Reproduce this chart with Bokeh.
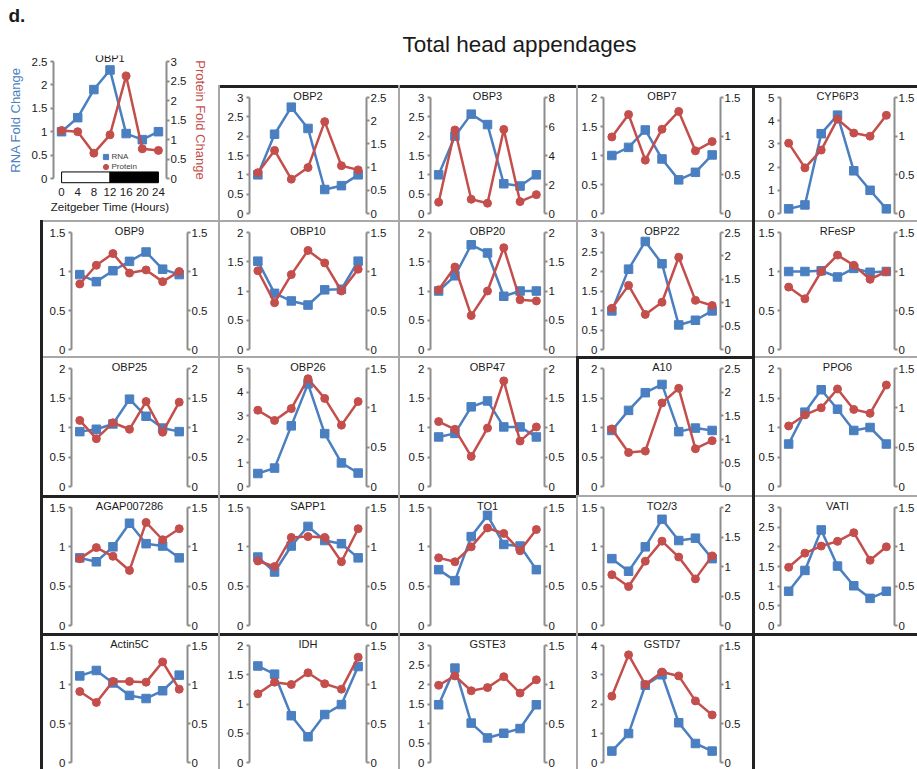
from bokeh.plotting import figure
from bokeh.models import (Range1d, LinearAxis, FixedTicker, CustomJSTickFormatter,
                          Label, Legend, LegendItem, Spacer)
from bokeh.layouts import row, column
from bokeh.embed import file_html
from bokeh.resources import INLINE

# ---------------- data ----------------
HOURS = [0, 4, 8, 12, 16, 20, 24]
LIGHT_DARK_START = [0, 12]
LIGHT_DARK_END = [12, 24]

rna_OBP1 = [1.0, 1.3, 1.9, 2.32, 0.96, 0.83, 1.0]
prot_OBP1 = [1.23, 1.2, 0.65, 1.12, 2.63, 0.76, 0.72]

rna_OBP2 = [1.0, 2.05, 2.75, 2.2, 0.62, 0.72, 1.0]
prot_OBP2 = [0.88, 1.36, 0.74, 0.99, 1.98, 1.03, 0.94]
rna_OBP3 = [1.0, 2.0, 2.57, 2.3, 0.77, 0.71, 1.0]
prot_OBP3 = [0.78, 5.76, 0.98, 0.71, 5.8, 0.82, 1.3]
rna_OBP7 = [1.0, 1.14, 1.44, 0.94, 0.58, 0.71, 1.01]
prot_OBP7 = [0.99, 1.28, 0.69, 1.09, 1.32, 0.81, 0.93]
rna_CYP6P3 = [0.2, 0.37, 3.44, 4.24, 1.84, 1.0, 0.2]
prot_CYP6P3 = [0.91, 0.59, 0.82, 1.22, 1.04, 1.0, 1.27]

rna_OBP9 = [0.96, 0.87, 1.01, 1.13, 1.25, 1.03, 0.96]
prot_OBP9 = [0.84, 1.08, 1.23, 0.98, 1.02, 0.87, 1.0]
rna_OBP10 = [1.51, 0.96, 0.83, 0.76, 1.02, 1.03, 1.51]
prot_OBP10 = [1.01, 0.6, 0.96, 1.27, 1.11, 0.75, 1.03]
rna_OBP20 = [1.0, 1.26, 1.79, 1.65, 0.91, 1.0, 1.0]
prot_OBP20 = [1.02, 1.41, 0.58, 1.0, 1.74, 0.85, 0.83]
rna_OBP22 = [0.99, 2.06, 2.77, 2.2, 0.63, 0.75, 0.99]
prot_OBP22 = [0.88, 1.37, 0.75, 1.01, 1.97, 1.05, 0.94]
rna_RFeSP = [1.0, 1.0, 1.01, 0.93, 1.04, 0.99, 1.0]
prot_RFeSP = [0.8, 0.65, 1.0, 1.21, 1.08, 0.9, 1.0]

rna_OBP25 = [0.93, 0.97, 1.06, 1.48, 1.19, 0.99, 0.93]
prot_OBP25 = [1.12, 0.81, 1.08, 0.97, 1.44, 0.92, 1.43]
rna_OBP26 = [0.55, 0.78, 2.57, 4.35, 2.24, 1.0, 0.57]
prot_OBP26 = [0.97, 0.84, 0.99, 1.37, 1.12, 0.78, 1.08]
rna_OBP47 = [0.84, 0.9, 1.35, 1.45, 1.01, 1.01, 0.84]
prot_OBP47 = [1.1, 0.97, 0.51, 0.99, 1.79, 0.77, 1.01]
rna_A10 = [0.95, 1.29, 1.59, 1.73, 0.93, 0.99, 0.95]
prot_A10 = [1.22, 0.72, 0.75, 1.77, 2.08, 0.8, 0.97]
rna_PPO6 = [0.72, 1.26, 1.64, 1.31, 0.95, 1.0, 0.72]
prot_PPO6 = [0.77, 0.91, 1.0, 1.24, 0.98, 0.93, 1.29]

rna_AGAP007286 = [0.86, 0.81, 1.0, 1.3, 1.04, 1.01, 0.86]
prot_AGAP007286 = [0.85, 0.99, 0.88, 0.7, 1.31, 1.09, 1.23]
rna_SAPP1 = [0.87, 0.68, 1.01, 1.26, 1.08, 1.04, 0.86]
prot_SAPP1 = [0.82, 0.75, 1.12, 1.13, 1.12, 0.81, 1.23]
rna_TO1 = [0.71, 0.57, 1.13, 1.4, 1.03, 1.01, 0.71]
prot_TO1 = [0.86, 0.81, 1.0, 1.24, 1.17, 0.95, 1.22]
rna_TO2_3 = [0.85, 0.69, 1.0, 1.35, 1.08, 1.11, 0.85]
prot_TO2_3 = [0.86, 0.66, 1.09, 1.43, 1.16, 0.79, 1.18]
rna_VATI = [0.87, 1.4, 2.43, 1.51, 1.01, 0.69, 0.87]
prot_VATI = [0.74, 0.92, 1.01, 1.07, 1.18, 0.83, 1.0]

rna_Actin5C = [1.11, 1.18, 1.02, 0.86, 0.82, 0.92, 1.12]
prot_Actin5C = [0.91, 0.77, 1.04, 1.04, 1.03, 1.29, 0.94]
rna_IDH = [1.65, 1.51, 0.8, 0.44, 0.82, 0.99, 1.64]
prot_IDH = [0.88, 1.03, 1.0, 1.15, 1.01, 0.94, 1.35]
rna_GSTE3 = [1.48, 2.42, 1.01, 0.63, 0.75, 0.87, 1.48]
prot_GSTE3 = [0.99, 1.11, 0.92, 0.96, 1.1, 0.89, 1.06]
rna_GSTD7 = [0.39, 0.99, 2.64, 3.0, 1.36, 0.65, 0.39]
prot_GSTD7 = [0.85, 1.38, 1.0, 1.16, 1.11, 0.79, 0.61]

GENES = ["OBP2", "OBP3", "OBP7", "CYP6P3",
         "OBP9", "OBP10", "OBP20", "OBP22", "RFeSP",
         "OBP25", "OBP26", "OBP47", "A10", "PPO6",
         "AGAP007286", "SAPP1", "TO1", "TO2/3", "VATI",
         "Actin5C", "IDH", "GSTE3", "GSTD7"]
RNA_AXIS_MAX = [3, 3, 2, 5,
                1.5, 2, 2, 3, 1.5,
                2, 5, 2, 2, 2,
                1.5, 1.5, 1.5, 1.5, 3,
                1.5, 2, 3, 4]
RNA_AXIS_STEP = [0.5, 0.5, 0.5, 1,
                 0.5, 0.5, 0.5, 0.5, 0.5,
                 0.5, 1, 0.5, 0.5, 0.5,
                 0.5, 0.5, 0.5, 0.5, 0.5,
                 0.5, 0.5, 0.5, 1]
PROT_AXIS_MAX = [2.5, 8, 1.5, 1.5,
                 1.5, 1.5, 2, 2.5, 1.5,
                 2, 1.5, 2, 2.5, 1.5,
                 1.5, 1.5, 1.5, 2, 1.5,
                 1.5, 1.5, 1.5, 1.5]
PROT_AXIS_STEP = [0.5, 2, 0.5, 0.5,
                  0.5, 0.5, 0.5, 0.5, 0.5,
                  0.5, 0.5, 0.5, 0.5, 0.5,
                  0.5, 0.5, 0.5, 0.5, 0.5,
                  0.5, 0.5, 0.5, 0.5]

SERIES = {
    "OBP2": (rna_OBP2, prot_OBP2), "OBP3": (rna_OBP3, prot_OBP3),
    "OBP7": (rna_OBP7, prot_OBP7), "CYP6P3": (rna_CYP6P3, prot_CYP6P3),
    "OBP9": (rna_OBP9, prot_OBP9), "OBP10": (rna_OBP10, prot_OBP10),
    "OBP20": (rna_OBP20, prot_OBP20), "OBP22": (rna_OBP22, prot_OBP22),
    "RFeSP": (rna_RFeSP, prot_RFeSP), "OBP25": (rna_OBP25, prot_OBP25),
    "OBP26": (rna_OBP26, prot_OBP26), "OBP47": (rna_OBP47, prot_OBP47),
    "A10": (rna_A10, prot_A10), "PPO6": (rna_PPO6, prot_PPO6),
    "AGAP007286": (rna_AGAP007286, prot_AGAP007286), "SAPP1": (rna_SAPP1, prot_SAPP1),
    "TO1": (rna_TO1, prot_TO1), "TO2/3": (rna_TO2_3, prot_TO2_3),
    "VATI": (rna_VATI, prot_VATI), "Actin5C": (rna_Actin5C, prot_Actin5C),
    "IDH": (rna_IDH, prot_IDH), "GSTE3": (rna_GSTE3, prot_GSTE3),
    "GSTD7": (rna_GSTD7, prot_GSTD7),
}

# ---------------- style ----------------
BLUE = "#4A7FC1"
RED = "#C44E4B"
AXIS_GREY = "#8C8C8C"
TEXT = "#1A1A1A"
FONT = "Liberation Sans"
BLACK_LINE = "#222222"
GREY_LINE = "#A8A8A8"
PAD = 6

COL_W = [178, 180, 178, 176, 165]
COL_BL = [31, 31, 32, 27, 28]
COL_BR = [31, 32, 32, 32, 22]
ROW_H = [135, 136, 139, 138, 136]
ROW_BT = [6, 6, 6, 6, 6]
ROW_BB = [1, 1, 3, 2, 1]
BORDERS = [
    [None, ("g", "k"), ("g", "k"), ("g", "k"), ("k", "k")],
    [("k", "g"), ("g", "g"), ("g", "g"), ("g", "g"), ("k", "g")],
    [("k", "g"), ("g", "g"), ("g", "g"), ("k", "k"), ("k", "g")],
    [("k", "k"), ("g", "k"), ("g", "k"), ("g", "g"), ("k", "g")],
    [("k", "k"), ("g", "k"), ("g", "k"), ("g", "k"), ("k", "k")],
]


def shadow(spec):
    lc, tc = spec
    lw, lcol = (3, BLACK_LINE) if lc == "k" else (2, GREY_LINE)
    tw, tcol = (3, BLACK_LINE) if tc == "k" else (2, GREY_LINE)
    return {"box-shadow": f"inset {lw}px 0 0 0 {lcol}, inset 0 {tw}px 0 0 {tcol}"}


def tick_list(mx, step):
    n = int(round(mx / step))
    return [round(i * step, 4) for i in range(n + 1)]


def style_axis(ax, standoff):
    ax.axis_line_color = AXIS_GREY
    ax.axis_line_width = 2
    ax.major_tick_line_color = AXIS_GREY
    ax.major_tick_line_width = 2
    ax.major_tick_out = 3
    ax.major_tick_in = 0
    ax.minor_tick_line_color = None
    ax.major_label_text_font = FONT
    ax.major_label_text_font_size = "11.5px"
    ax.major_label_text_color = TEXT
    ax.major_label_standoff = standoff


def plain_fig(w, h, xr, yr):
    p = figure(width=w, height=h, output_backend="svg", toolbar_location=None,
               x_range=Range1d(0, xr), y_range=Range1d(0, yr),
               x_axis_location=None, y_axis_location=None, min_border=0,
               border_fill_color=None, background_fill_color=None,
               outline_line_color=None, frame_align=False)
    p.grid.grid_line_color = None
    p.title.visible = False
    return p


def base_fig(w, h, bl, br, bt, bb, lmax, rmax, styles=None):
    span = h - bt - bb - 2 * PAD
    f = PAD / span
    kw = {}
    if styles:
        kw["styles"] = styles
    p = figure(width=w, height=h, output_backend="svg", toolbar_location=None,
               x_range=Range1d(-2, 26), y_range=Range1d(-f * lmax, lmax * (1 + f)),
               x_axis_location=None, y_axis_location=None,
               min_border_left=bl, min_border_right=br,
               min_border_top=bt, min_border_bottom=bb,
               border_fill_color=None, background_fill_color=None,
               outline_line_color=None, frame_align=False, **kw)
    p.grid.grid_line_color = None
    p.title.visible = False
    p.extra_y_ranges = {"right": Range1d(-f * rmax, rmax * (1 + f))}
    return p


def add_axes(p, lmax, lstep, rmax, rstep):
    la = LinearAxis(bounds=(0, lmax), ticker=FixedTicker(ticks=tick_list(lmax, lstep)),
                    formatter=CustomJSTickFormatter(code="return String(Math.round(tick*100)/100);"))
    style_axis(la, 3)
    p.add_layout(la, "left")
    ra = LinearAxis(y_range_name="right", bounds=(0, rmax),
                    ticker=FixedTicker(ticks=tick_list(rmax, rstep)),
                    formatter=CustomJSTickFormatter(code="return String(Math.round(tick*100)/100);"))
    style_axis(ra, 1)
    p.add_layout(ra, "right")
    return la, ra


def add_series(p, rna, prot):
    p.line(HOURS, rna, line_color=BLUE, line_width=2.5)
    r1 = p.scatter(HOURS, rna, marker="square", size=8.5, fill_color=BLUE, line_color=BLUE)
    p.line(HOURS, prot, line_color=RED, line_width=2.5, y_range_name="right")
    r2 = p.scatter(HOURS, prot, marker="circle", size=8, fill_color=RED, line_color=RED,
                   y_range_name="right")
    return r1, r2


def gene_panel(name, w, h, bl, br, bt, bb, spec):
    i = GENES.index(name)
    lmax, lstep, rmax, rstep = RNA_AXIS_MAX[i], RNA_AXIS_STEP[i], PROT_AXIS_MAX[i], PROT_AXIS_STEP[i]
    p = base_fig(w, h, bl, br, bt, bb, lmax, rmax, styles=shadow(spec))
    add_axes(p, lmax, lstep, rmax, rstep)
    rna, prot = SERIES[name]
    add_series(p, rna, prot)
    p.add_layout(Label(x=12, y=lmax, y_offset=2, text=name, text_align="center",
                       text_baseline="middle", text_font=FONT, text_font_size="11px",
                       text_color=TEXT))
    return p


# ---------------- panel label "d." ----------------
pd_ = plain_fig(218, 50, 218, 50)
pd_.add_layout(Label(x=8, y=35, text="d.", text_align="left", text_baseline="middle",
                     text_font=FONT, text_font_size="19px", text_font_style="bold",
                     text_color=TEXT))

# ---------------- OBP1 (annotated panel) ----------------
p1 = base_fig(218, 170, 53, 52, 5, 36, 2.5, 3)
la, ra = add_axes(p1, 2.5, 0.5, 3, 0.5)
la.axis_label = "RNA Fold Change"
la.axis_label_text_color = BLUE
la.axis_label_text_font = FONT
la.axis_label_text_font_size = "13px"
la.axis_label_text_font_style = "normal"
la.axis_label_standoff = 6
ra.axis_label = "Protein Fold Change"
ra.axis_label_text_color = RED
ra.axis_label_text_font = FONT
ra.axis_label_text_font_size = "13px"
ra.axis_label_text_font_style = "normal"
ra.axis_label_standoff = 4
xa = LinearAxis(ticker=FixedTicker(ticks=HOURS), axis_line_color=None,
                major_tick_line_color=None, minor_tick_line_color=None,
                major_tick_out=0, major_tick_in=0, major_label_standoff=3,
                major_label_text_font=FONT, major_label_text_font_size="11.5px",
                major_label_text_color=TEXT,
                axis_label="Zeitgeber Time (Hours)", axis_label_standoff=2,
                axis_label_text_font=FONT, axis_label_text_font_size="11.5px",
                axis_label_text_font_style="normal", axis_label_text_color=TEXT)
p1.add_layout(xa, "below")
# light / dark bar
p1.quad(left=LIGHT_DARK_START, right=LIGHT_DARK_END, bottom=-0.09, top=0.14,
        fill_color=["white", "black"], line_color="black", line_width=1)
r_rna, r_prot = add_series(p1, rna_OBP1, prot_OBP1)
for rend, lab, yloc in ((r_rna, "RNA", 21.5), (r_prot, "Protein", 11.5)):
    lg = Legend(items=[LegendItem(label=lab, renderers=[rend])], location=(45.5, yloc),
                glyph_width=13, glyph_height=13, label_height=13, label_standoff=0,
                padding=0, spacing=0, margin=0, border_line_color=None,
                background_fill_alpha=0, label_text_font=FONT,
                label_text_font_size="8px", label_text_color="#404040")
    p1.add_layout(lg, "center")
p1.add_layout(Label(x=12, y=2.5, y_offset=4, text="OBP1", text_align="center",
                    text_baseline="middle", text_font=FONT, text_font_size="11px",
                    text_color=TEXT))

# ---------------- title ----------------
pt = plain_fig(699, 85, 699, 85)
pt.add_layout(Label(x=301, y=41, text="Total head appendages", text_align="center",
                    text_baseline="middle", text_font=FONT, text_font_size="22.5px",
                    text_color=TEXT))

# ---------------- grid ----------------
GRID = [
    [None, "OBP2", "OBP3", "OBP7", "CYP6P3"],
    ["OBP9", "OBP10", "OBP20", "OBP22", "RFeSP"],
    ["OBP25", "OBP26", "OBP47", "A10", "PPO6"],
    ["AGAP007286", "SAPP1", "TO1", "TO2/3", "VATI"],
    ["Actin5C", "IDH", "GSTE3", "GSTD7", None],
]

rows = []
for ri, names in enumerate(GRID):
    cells = []
    for ci, name in enumerate(names):
        if name is None:
            if ri == 0:
                continue
            cells.append(Spacer(width=COL_W[ci], height=ROW_H[ri], styles=shadow(BORDERS[ri][ci])))
            continue
        cells.append(gene_panel(name, COL_W[ci], ROW_H[ri], COL_BL[ci], COL_BR[ci],
                                ROW_BT[ri], ROW_BB[ri], BORDERS[ri][ci]))
    rows.append(cells)

top = row(column(pd_, p1), column(pt, row(*rows[0])))
body = [row(Spacer(width=40, height=ROW_H[ri]), *rows[ri]) for ri in range(1, 5)]
layout = column(top, *body)

open("out.html", "w").write(file_html(layout, INLINE, title="Total head appendages"))
